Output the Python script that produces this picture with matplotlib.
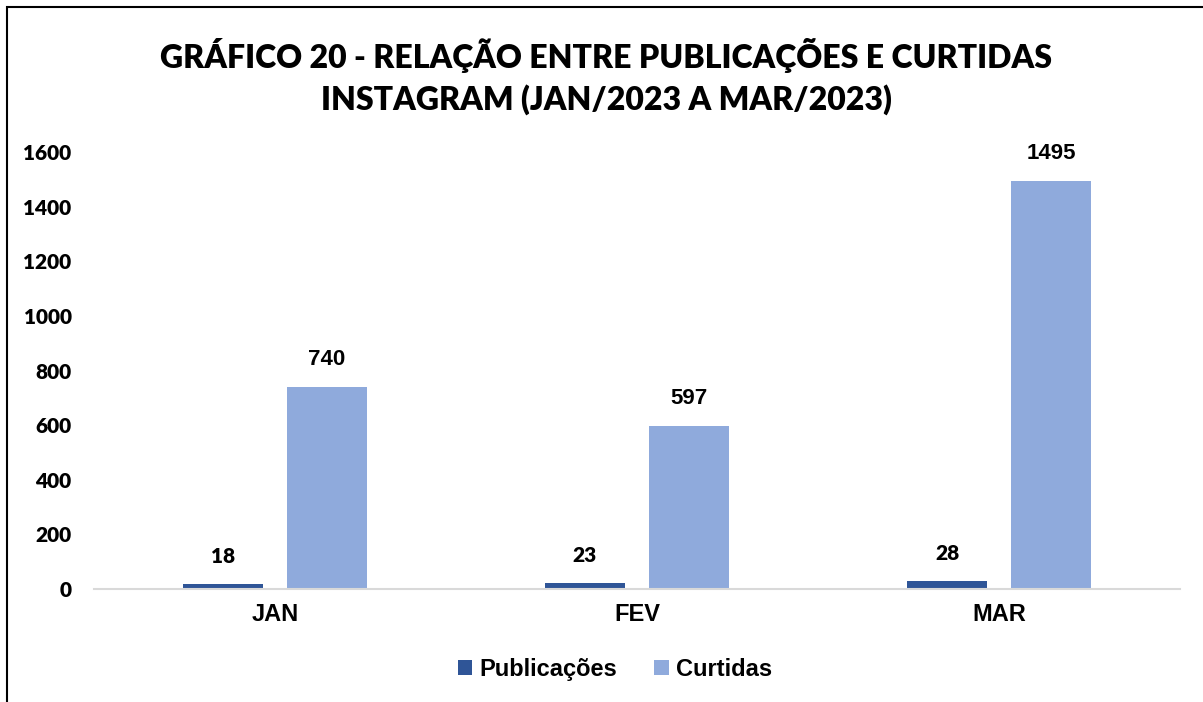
import numpy as np
import matplotlib.pyplot as plt
from matplotlib.patches import Rectangle

# --- Data ---
meses = ["JAN", "FEV", "MAR"]
publicacoes = [18, 23, 28]
curtidas = [740, 597, 1495]
yticks = [0, 200, 400, 600, 800, 1000, 1200, 1400, 1600]

cor_pub = "#2F5597"
cor_cur = "#8FAADC"

fig = plt.figure(figsize=(12.03, 7.02), dpi=100)
ax = fig.add_axes([0.078, 0.161, 0.903, 0.622])

# --- Frame around the chart ---
fig.patches.append(Rectangle((7 / 1203, -0.05), 1.1, 1 - 7 / 702 + 0.05,
                             transform=fig.transFigure, fill=False,
                             edgecolor="black", linewidth=1.5))

x = np.arange(len(meses))
w = 0.221
off = 0.1436
b1 = ax.bar(x - off, publicacoes, w, color=cor_pub, label="Publicações")
b2 = ax.bar(x + off, curtidas, w, color=cor_cur, label="Curtidas")

for rect, v in zip(b1, publicacoes):
    ax.annotate(str(v), (rect.get_x() + rect.get_width() / 2, v),
                xytext=(0, 13), textcoords="offset points", ha="center",
                va="bottom", fontsize=15, fontweight="heavy", family="Lato")
for rect, v in zip(b2, curtidas):
    ax.annotate(str(v), (rect.get_x() + rect.get_width() / 2, v),
                xytext=(0, 12), textcoords="offset points", ha="center",
                va="bottom", fontsize=16, fontweight="bold",
                family="Liberation Sans")

ax.set_xlim(-0.5, 2.5)
ax.set_ylim(0, 1600)
ax.set_yticks(yticks)
ax.set_yticklabels([str(t) for t in yticks], fontsize=15, fontweight="heavy",
                   family="Lato")
ax.set_xticks(x)
ax.set_xticklabels(meses, fontsize=17, fontweight="bold",
                   family="Liberation Sans")
ax.tick_params(axis="both", length=0)
ax.tick_params(axis="y", pad=16)
ax.tick_params(axis="x", pad=10)

for s in ["top", "right", "left"]:
    ax.spines[s].set_visible(False)
ax.spines["bottom"].set_color("#D9D9D9")
ax.spines["bottom"].set_linewidth(1.5)

fig.text(0.504, 0.891, "GRÁFICO 20 - RELAÇÃO ENTRE PUBLICAÇÕES E CURTIDAS\nINSTAGRAM (JAN/2023 A MAR/2023)",
         ha="center", va="center", fontsize=23, fontweight="heavy",
         family="Lato", linespacing=1.45)

fig.legend(loc="center", bbox_to_anchor=(0.511, 0.046), ncol=2, frameon=False,
           prop={"family": "Liberation Sans", "weight": "bold", "size": 17},
           handlelength=0.6, handleheight=0.6, handletextpad=0.3,
           columnspacing=1.6)

fig.savefig("out.png", dpi=100)
